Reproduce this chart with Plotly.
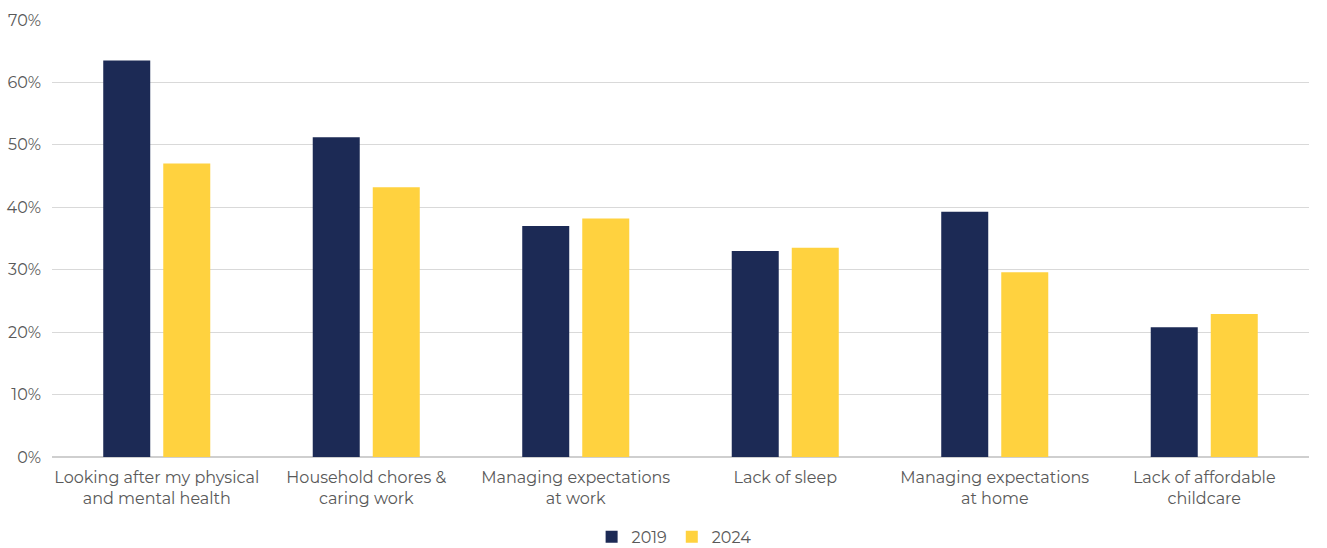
import plotly.graph_objects as go

categories = [
    "Looking after my physical<br>and mental health",
    "Household chores &<br>caring work",
    "Managing expectations<br>at work",
    "Lack of sleep",
    "Managing expectations<br>at home",
    "Lack of affordable<br>childcare",
]
values_2019 = [63.5, 51.2, 37.0, 33.0, 39.3, 20.8]
values_2024 = [47.0, 43.2, 38.2, 33.5, 29.6, 22.9]
tick_vals = [0, 10, 20, 30, 40, 50, 60, 70]
tick_text = [f"{v}%" for v in tick_vals]

NAVY = "#1C2A55"
YELLOW = "#FFD23F"
FONT = "Montserrat, Lato, 'Noto Sans', sans-serif"
TEXT = "#595959"

fig = go.Figure()
fig.add_trace(go.Bar(x=categories, y=values_2019, name="2019",
                     marker=dict(color=NAVY, line=dict(width=0))))
fig.add_trace(go.Bar(x=categories, y=values_2024, name="2024",
                     marker=dict(color=YELLOW, line=dict(width=0))))

fig.update_layout(
    width=1327, height=548,
    margin=dict(l=52, r=18, t=20, b=91, autoexpand=False),
    barmode="group", bargap=0.427, bargroupgap=0.217,
    paper_bgcolor="white", plot_bgcolor="white",
    font=dict(family=FONT, size=16, color=TEXT),
    showlegend=True,
    legend=dict(orientation="h", x=0.508, xanchor="center", xref="container",
                y=-0.183, yanchor="middle", yref="paper",
                font=dict(size=16, color=TEXT), itemwidth=30,
                traceorder="normal", bgcolor="rgba(0,0,0,0)"),
    xaxis=dict(showgrid=False, showline=False, tickfont=dict(size=16, color=TEXT),
               ticks="", ticklabelstandoff=9, automargin=False),
    yaxis=dict(range=[0, 70], tickvals=tick_vals, ticktext=tick_text,
               showgrid=True, gridcolor="#D9D9D9", gridwidth=1,
               zeroline=True, zerolinecolor="#CFCFCF", zerolinewidth=2,
               showline=False, ticks="", ticklabelstandoff=10, automargin=False,
               tickfont=dict(size=16, color=TEXT)),
)

fig.write_html("out.html")
